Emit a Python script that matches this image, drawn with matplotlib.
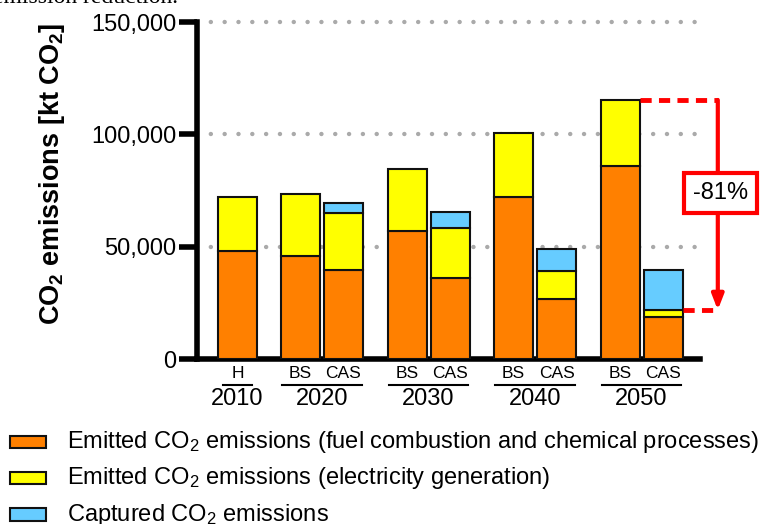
import matplotlib.pyplot as plt
from matplotlib.patches import Rectangle
from matplotlib.transforms import blended_transform_factory

plt.rcParams['font.family'] = ['Liberation Sans', 'DejaVu Sans']
plt.rcParams['mathtext.default'] = 'regular'

# scenario bars: historic 2010, then base scenario (BS) / carbon abatement scenario (CAS)
years = ['2010', '2020', '2030', '2040', '2050']
bar_labels = ['H', 'BS', 'CAS', 'BS', 'CAS', 'BS', 'CAS', 'BS', 'CAS']
fuel_process = [48100, 45800, 39600, 57000, 36000, 72100, 26700, 85900, 18700]
electricity = [24000, 27600, 25400, 27600, 22300, 28500, 12500, 29400, 3100]
captured = [0, 0, 4400, 0, 7100, 0, 9800, 0, 17800]
reduction_label = '-81%'

legend_labels = [
    'Emitted CO$_2$ emissions (fuel combustion and chemical processes)',
    'Emitted CO$_2$ emissions (electricity generation)',
    'Captured CO$_2$ emissions',
]
colors = ['#FF8000', '#FFFF00', '#66CCFF']

# x layout: H bar at 0, each BS/CAS pair 1 unit apart, pairs 2.477 apart
pos = [0.0]
for k in range(4):
    bs = 1.465 + 2.477 * k
    pos += [bs, bs + 1]
width = 0.907

fig = plt.figure(figsize=(7.65, 5.24), dpi=100)
ax = fig.add_axes([197 / 765, 1 - 359 / 524, 503 / 765, 337 / 524])

bottom2 = [a + b for a, b in zip(fuel_process, electricity)]
ax.bar(pos, fuel_process, width, color=colors[0], edgecolor='#111111', linewidth=1.5, zorder=3)
ax.bar(pos, electricity, width, bottom=fuel_process, color=colors[1],
       edgecolor='#111111', linewidth=1.5, zorder=3)
cap_pos = [p for p, c in zip(pos, captured) if c > 0]
cap_val = [c for c in captured if c > 0]
cap_bot = [b for b, c in zip(bottom2, captured) if c > 0]
ax.bar(cap_pos, cap_val, width, bottom=cap_bot, color=colors[2],
       edgecolor='#111111', linewidth=1.5, zorder=3)

ax.set_xlim(-0.942, 10.756)
ax.set_ylim(0, 150000)
ax.set_yticks([0, 50000, 100000, 150000])
ax.set_yticklabels([f'{v:,}' for v in [0, 50000, 100000, 150000]], fontsize=17)
ax.tick_params(axis='y', length=13, width=4, pad=2)
ax.set_xticks([])
for s in ['top', 'right']:
    ax.spines[s].set_visible(False)
for s in ['left', 'bottom']:
    ax.spines[s].set_linewidth(4)
for v in [50000, 100000, 150000]:
    ax.axhline(v, color='#aaaaaa', linewidth=3.2, linestyle=(0, (0.01, 3.1)),
               dash_capstyle='round', zorder=1, xmax=1.01, clip_on=False)

ax.set_ylabel('CO$_2$ emissions [kt CO$_2$]', fontsize=19.5, fontweight='bold')
ax.yaxis.set_label_coords(-130 / 503, 0.55)

# category labels under the axis
tr = blended_transform_factory(ax.transData, fig.transFigure)
for p, lab in zip(pos, bar_labels):
    fig.text(p, 1 - 374 / 524, lab, transform=tr, ha='center', va='center', fontsize=12.5)
groups = [[0]] + [[1 + 2 * k, 2 + 2 * k] for k in range(4)]
for yr, g in zip(years, groups):
    x0 = pos[g[0]] - width / 2 + 0.03
    x1 = pos[g[-1]] + width / 2 - 0.03
    if len(g) == 1:
        x0, x1 = pos[g[0]] - 0.33, pos[g[0]] + 0.33
    fig.add_artist(plt.Line2D([x0, x1], [1 - 385 / 524] * 2, transform=tr,
                              color='black', linewidth=1.5))
    fig.text((x0 + x1) / 2, 1 - 399 / 524, yr, transform=tr, ha='center', va='center',
             fontsize=17)

# reduction annotation between 2050 BS total and 2050 CAS emitted
top_val = bottom2[7]
low_val = bottom2[8]
xa = 11.17
red = '#FF0000'
ax.plot([pos[7] + width / 2, xa], [top_val, top_val], color=red, linewidth=3.5,
        linestyle=(0, (2.3, 1.5)), clip_on=False, zorder=4)
ax.plot([pos[8] + width / 2, xa], [low_val, low_val], color=red, linewidth=3.5,
        linestyle=(0, (2.3, 1.5)), clip_on=False, zorder=4)
ax.annotate('', xy=(xa, low_val), xytext=(xa, top_val),
            arrowprops=dict(arrowstyle='-|>,head_length=0.9,head_width=0.35',
                            color=red, linewidth=3, shrinkA=0, shrinkB=0),
            annotation_clip=False, zorder=4)
ax.text(xa + 0.07, 74000, reduction_label, ha='center', va='center', fontsize=17,
        zorder=5, clip_on=False,
        bbox=dict(boxstyle='square,pad=0.38', facecolor='white', edgecolor=red, linewidth=3))

# legend
rows_y = [442, 478, 514.5]
for c, lab, yy in zip(colors, legend_labels, rows_y):
    fig.add_artist(Rectangle((10 / 765, 1 - (yy + 6.3) / 524), 36 / 765, 12.6 / 524,
                             transform=fig.transFigure, facecolor=c,
                             edgecolor='#111111', linewidth=1.5))
    fig.text(67 / 765, 1 - yy / 524, lab, ha='left', va='center', fontsize=17)

# caption text running off the top edge
fig.text(178 / 765, 1 - 3 / 524, 'emission reduction.', ha='right', va='baseline',
         fontsize=17, family='Liberation Serif')

fig.savefig('out.png', dpi=100)
